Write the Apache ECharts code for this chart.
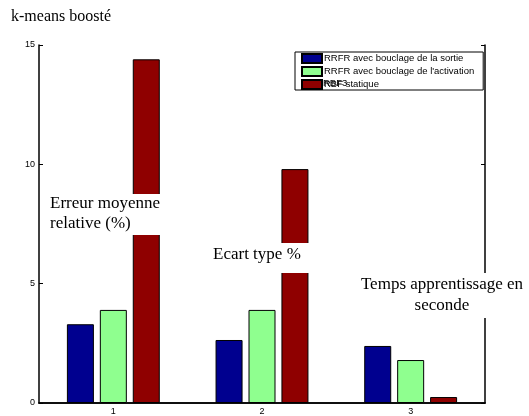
<!DOCTYPE html>
<html>
<head>
<meta charset="utf-8">
<script src="https://cdn.jsdelivr.net/npm/echarts@6/dist/echarts.min.js"></script>
<style>html,body{margin:0;padding:0;background:#fff}#c{width:529px;height:416px}</style>
</head>
<body>
<div id="c"></div>
<script>
const categories = ['1', '2', '3'];
const seriesNames = ['RRFR avec bouclage de la sortie', "RRFR avec bouclage de l'activation", 'RBF statique'];
const sortieValues = [3.3, 2.64, 2.39];
const activationValues = [3.9, 3.9, 1.8];
const statiqueValues = [14.4, 9.8, 0.25];
const yTicks = [0, 5, 10, 15];

const colors = ['#00008f', '#8fff8f', '#8f0000'];
const chart = echarts.init(document.getElementById('c'), null, {renderer: 'canvas'});
const sans = 'Liberation Sans, Arial, sans-serif';
const serif = 'Liberation Serif, Times New Roman, serif';

function bar(name, data, color) {
  return {
    name: name, type: 'bar', data: data, barWidth: 27, barGap: '22%',
    itemStyle: {color: color, borderColor: '#000', borderWidth: 1},
    emphasis: {disabled: true}
  };
}

chart.setOption({
  animation: false,
  backgroundColor: '#fff',
  title: {text: 'k-means boosté', left: 11, top: 9, padding: 0,
    textStyle: {fontFamily: serif, fontSize: 16, fontWeight: 'normal', color: '#000'}},
  grid: {left: 39, top: 45, width: 446, height: 358},
  legend: {
    orient: 'vertical', left: 295, top: 52,
    padding: [1, 9, 0, 6], itemGap: 2, itemWidth: 20, itemHeight: 9, icon: 'rect',
    backgroundColor: '#fff', borderColor: '#000', borderWidth: 1,
    textStyle: {fontFamily: sans, fontSize: 9.5, lineHeight: 9, color: '#000', padding: [0, 0, 0, -3]},
    data: seriesNames, selectedMode: false
  },
  xAxis: [
    {type: 'category', data: categories, position: 'bottom',
     axisLine: {lineStyle: {color: '#000', width: 1.5}},
     axisTick: {inside: true, alignWithLabel: true, length: 4, lineStyle: {color: '#000'}},
     axisLabel: {fontFamily: sans, fontSize: 9, color: '#000', margin: 4}},
    {type: 'category', data: categories, position: 'top',
     axisLine: {lineStyle: {color: '#000', width: 1.5}},
     axisTick: {inside: true, alignWithLabel: true, length: 4, lineStyle: {color: '#000'}},
     axisLabel: {show: false}}
  ],
  yAxis: [
    {type: 'value', min: 0, max: 15, interval: 5, position: 'left',
     axisLine: {show: true, lineStyle: {color: '#000', width: 1.5}},
     axisTick: {show: true, inside: true, length: 4, lineStyle: {color: '#000'}},
     splitLine: {show: false},
     axisLabel: {fontFamily: sans, fontSize: 9, color: '#000', margin: 4,
       formatter: v => yTicks.includes(v) ? String(v) : ''}},
    {type: 'value', min: 0, max: 15, interval: 5, position: 'right',
     axisLine: {show: true, lineStyle: {color: '#000', width: 1.5}},
     axisTick: {show: true, inside: true, length: 4, lineStyle: {color: '#000'}},
     splitLine: {show: false}, axisLabel: {show: false}}
  ],
  series: [
    bar(seriesNames[0], sortieValues, colors[0]),
    bar(seriesNames[1], activationValues, colors[1]),
    bar(seriesNames[2], statiqueValues, colors[2])
  ],
  graphic: [
    {type: 'text', x: 323, y: 83, z: 200,
     style: {text: 'RBF3', font: '9.5px ' + sans, fill: '#000', verticalAlign: 'middle'}},
    {type: 'text', x: 48, y: 194, z: 200,
     style: {text: 'Erreur moyenne\nrelative (%)', font: '17px ' + serif, fill: '#000',
       align: 'left', verticalAlign: 'top', lineHeight: 20,
       backgroundColor: '#fff', padding: [0, 2, 1, 2]}},
    {type: 'text', x: 211, y: 243, z: 200,
     style: {text: 'Ecart type %', font: '17px ' + serif, fill: '#000',
       align: 'left', verticalAlign: 'top', lineHeight: 20,
       backgroundColor: '#fff', padding: [2, 9, 8, 2]}},
    {type: 'text', x: 442, y: 273, z: 200,
     style: {text: 'Temps apprentissage en\nseconde', font: '17px ' + serif, fill: '#000',
       align: 'center', verticalAlign: 'top', lineHeight: 21,
       backgroundColor: '#fff', padding: [1, 1, 2, 1]}}
  ]
});
</script>
</body>
</html>
